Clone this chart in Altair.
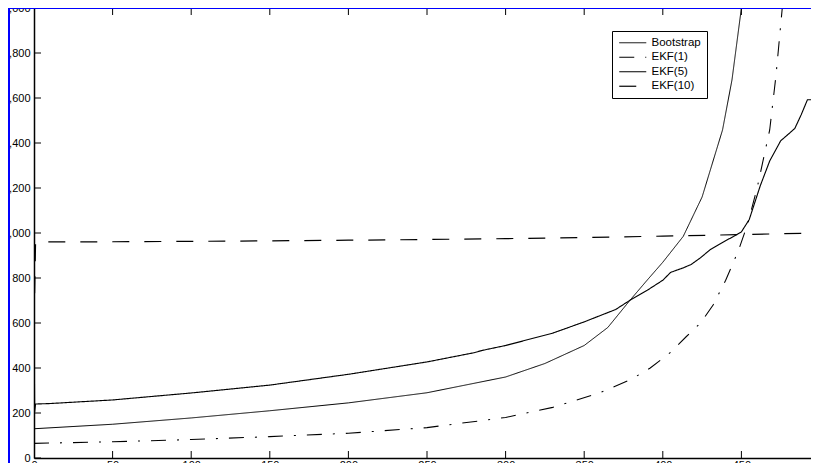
import altair as alt
import pandas as pd

# ---------------- data ----------------
series_names = ["Bootstrap", "EKF(1)", "EKF(5)", "EKF(10)"]

boot_x = [0, 50, 100, 150, 200, 250, 300, 325, 350, 365, 379, 390, 400, 413, 425, 438, 444, 450, 453]
boot_y = [130, 150, 178, 210, 245, 290, 360, 420, 500, 580, 700, 790, 870, 985, 1160, 1458, 1680, 2000, 2200]

ekf1_x = [0, 50, 100, 150, 200, 250, 300, 330, 360, 380, 392, 405, 415, 424, 432, 440, 448, 454, 460, 468, 472, 476, 478]
ekf1_y = [65, 72, 82, 95, 110, 135, 180, 225, 290, 350, 400, 470, 540, 600, 680, 790, 920, 1040, 1200, 1458, 1700, 2000, 2150]

ekf5_x = [0, 0.4, 1, 10, 50, 100, 150, 200, 250, 280, 285, 300, 330, 350, 370, 380, 390, 400, 405, 413, 418, 424, 430, 436, 445, 450, 455, 462, 468, 475, 480, 484, 488, 492, 500]
ekf5_y = [700, 205, 240, 242, 258, 289, 324, 372, 427, 468, 478, 500, 555, 605, 660, 705, 745, 790, 825, 845, 860, 890, 925, 950, 985, 1005, 1060, 1210, 1320, 1410, 1440, 1465, 1525, 1592, 1592]

ekf10_x = [0, 1, 50, 100, 150, 200, 250, 300, 350, 400, 450, 500]
ekf10_y = [590, 960, 961, 963, 965, 968, 971, 975, 980, 986, 993, 1000]

x_ticks = [0, 50, 100, 150, 200, 250, 300, 350, 400, 450, 500]
y_ticks = [0, 200, 400, 600, 800, 1000, 1200, 1400, 1600, 1800, 2000]

# ---------------- build tables ----------------
rows = []
for name, xs, ys in [("Bootstrap", boot_x, boot_y), ("EKF(1)", ekf1_x, ekf1_y),
                     ("EKF(5)", ekf5_x, ekf5_y), ("EKF(10)", ekf10_x, ekf10_y)]:
    for i, (xv, yv) in enumerate(zip(xs, ys)):
        rows.append({"series": name, "x": xv, "y": yv, "order": i})
df = pd.DataFrame(rows)

FONT = "Liberation Sans"
PX_PER_UNIT = 786 / 500.0      # horizontal scale of the original figure
W, H = 777, 450                # visible part of the plot area
X_MAX = W / PX_PER_UNIT        # right edge of the visible part, in data units

axis_common = dict(ticks=False, tickSize=0, domainColor="black", domainWidth=1.5,
                   labelColor="black", labelFont=FONT, labelFontSize=11,
                   labelFlush=False, labelOverlap=False, grid=False, title=None)

x_enc = alt.X("x:Q", scale=alt.Scale(domain=[0, X_MAX], nice=False, zero=False),
              axis=alt.Axis(values=x_ticks, labelPadding=1, **axis_common))
y_enc = alt.Y("y:Q", scale=alt.Scale(domain=[0, 2000], nice=False, zero=False),
              axis=alt.Axis(values=y_ticks, labelPadding=4, **axis_common))

legend_props = dict(orient="none", legendX=578, legendY=23, title=None,
                    fillColor="white", strokeColor="black", padding=6,
                    symbolType="M-1,0H5", symbolSize=81, symbolStrokeColor="black",
                    labelFont=FONT, labelFontSize=11.5, labelColor="black",
                    labelOffset=22, rowPadding=1.5)

lines = alt.Chart(df).mark_line(clip=True).encode(
    x=x_enc,
    y=y_enc,
    strokeDash=alt.StrokeDash("series:N",
                              scale=alt.Scale(domain=series_names,
                                              range=[[1, 0], [15, 11, 2, 11], [1, 0], [17, 15]]),
                              legend=alt.Legend(**legend_props)),
    strokeWidth=alt.StrokeWidth("series:N",
                                scale=alt.Scale(domain=series_names, range=[1, 1.2, 3.5, 1.6]),
                                legend=alt.Legend(**legend_props)),
    color=alt.value("black"),
    order="order:Q",
)

ytick_df = pd.DataFrame({"y": y_ticks})
xtick_df = pd.DataFrame({"x": x_ticks})

yticks = alt.Chart(ytick_df).mark_rule(color="black", strokeWidth=1).encode(
    y=y_enc, x=alt.value(0), x2=alt.value(7))
xticks_bottom = alt.Chart(xtick_df).mark_rule(color="black", strokeWidth=1, clip=True).encode(
    x=x_enc, y=alt.value(H), y2=alt.value(H - 7))
xticks_top = alt.Chart(xtick_df).mark_rule(color="black", strokeWidth=1, clip=True).encode(
    x=x_enc, y=alt.value(0), y2=alt.value(7))

frame_df = pd.DataFrame({"k": [0]})
frame_left = alt.Chart(frame_df).mark_rect(color="#0000ff").encode(
    x=alt.value(-26), x2=alt.value(-24), y=alt.value(0), y2=alt.value(H + 5))
frame_top = alt.Chart(frame_df).mark_rect(color="#0000ff").encode(
    x=alt.value(-26), x2=alt.value(W), y=alt.value(0), y2=alt.value(1))

chart = alt.layer(
    yticks, xticks_bottom, xticks_top, lines, frame_left, frame_top
).properties(
    width=W, height=H,
    autosize=alt.AutoSizeParams(type="none"),
    padding={"left": 26, "top": 0, "right": 0, "bottom": 5},
    background="white",
).configure_view(stroke=None)

chart.save("out.html", embed_options={"renderer": "svg", "actions": False})
